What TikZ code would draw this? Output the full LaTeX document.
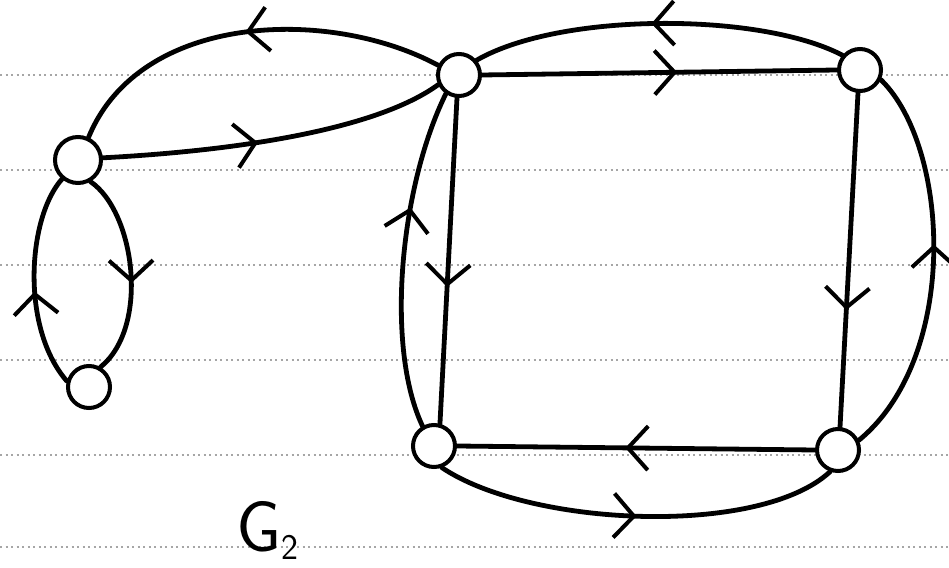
\documentclass[tikz,border=0pt]{standalone}
\usetikzlibrary{arrows.meta,decorations.markings}
\begin{document}
\begin{tikzpicture}[x=1pt,y=1pt,
  vtx/.style={circle,draw,line width=4pt,fill=white,minimum size=42pt,inner sep=0pt},
  edge/.style={line width=4.8pt,line cap=round},
  mid/.style={postaction={decorate},decoration={markings,
     mark=at position #1 with {\arrow[line width=4pt]{Straight Barb[length=20pt,width=44pt]}}}},
  rule/.style={gray!70,line width=1.8pt,dash pattern=on 2pt off 3.5pt}]
\useasboundingbox (0,0) rectangle (949,567);
\fill[white] (0,0) rectangle (949,567);
% ruled paper
\foreach \yy in {492,397,302,207,112,20} \draw[rule] (0,\yy) -- (949,\yy);
% vertices
\node[vtx,minimum size=46pt] (A) at (78,407) {};
\node[vtx,minimum size=42pt] (B) at (89,180) {};
\node[vtx] (C) at (459,492) {};
\node[vtx] (D) at (860,497) {};
\node[vtx] (E) at (434,121) {};
\node[vtx] (F) at (838,117) {};
% edges
\draw[edge,mid=0.5] (C.155) .. controls (330,560) and (140,555) .. (A.65);
\draw[edge,mid=0.45] (A.5) .. controls (250,417) and (380,440) .. (C.205);
\draw[edge,mid=0.55] (A.300) .. controls (135,355) and (150,240) .. (B.60);
\draw[edge,mid=0.45] (B.165) .. controls (20,240) and (28,350) .. (A.230);
\draw[edge,mid=0.55] (C.east) -- (D.west);
\draw[edge,mid=0.52] (D.140) .. controls (760,555) and (560,555) .. (C.40);
\draw[edge,mid=0.58] (C.265) -- (E.75);
\draw[edge,mid=0.65] (E.120) .. controls (385,220) and (400,380) .. (C.235);
\draw[edge,mid=0.65] (D.265) -- (F.85);
\draw[edge,mid=0.55] (F.25) .. controls (960,210) and (950,420) .. (D.335);
\draw[edge,mid=0.53] (F.west) -- (E.east);
\draw[edge,mid=0.5] (E.290) .. controls (530,40) and (760,30) .. (F.250);
% label
\node[anchor=base west,inner sep=0pt] (G) at (236,16)
  {\fontsize{72}{72}\selectfont\sffamily G\raisebox{-8pt}{\fontsize{36}{36}\selectfont 2}};
\end{tikzpicture}
\end{document}
